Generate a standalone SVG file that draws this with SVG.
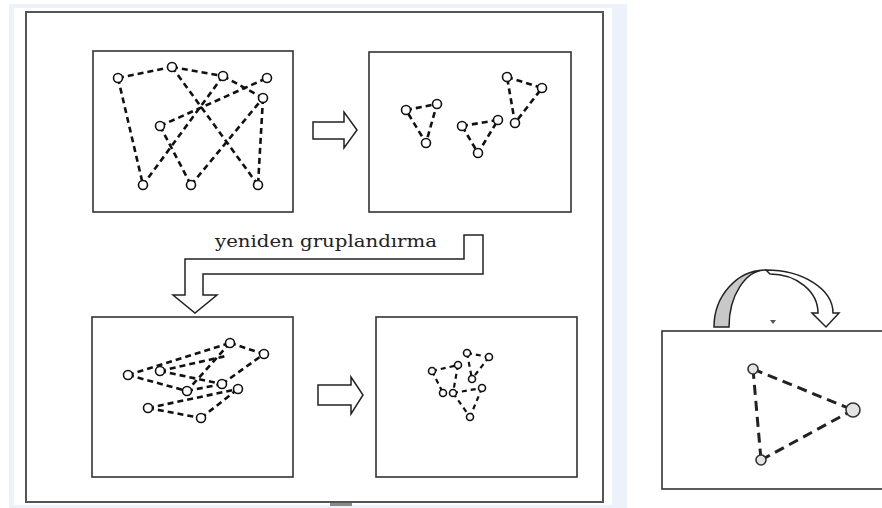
<svg xmlns="http://www.w3.org/2000/svg" width="882" height="508" viewBox="0 0 882 508">
<style>
.panel{fill:#fff;stroke:#333;stroke-width:1.6}
.frame{fill:#fff;stroke:#555;stroke-width:2}
.e{stroke:#111;stroke-width:2.6;stroke-dasharray:6 4;fill:none}
.es{stroke:#111;stroke-width:2.2;stroke-dasharray:5 4;fill:none}
.eb{stroke:#222;stroke-width:3;stroke-dasharray:10 6;fill:none}
.n{fill:#fff;stroke:#111;stroke-width:1.6}
.nb{fill:#e4e4e4;stroke:#333;stroke-width:1.6}
.blk{fill:#fff;stroke:#222;stroke-width:1.5;stroke-linejoin:miter}
.lbl{font-family:"DejaVu Serif","Liberation Serif",serif;font-size:17px;fill:#222}
</style>
<rect x="0" y="0" width="882" height="508" fill="#fff"/>
<rect x="9" y="4" width="618" height="504" fill="#edf2fa"/>
<rect x="14" y="8" width="598" height="497" fill="#fff"/>
<rect class="frame" x="26" y="12" width="577" height="490"/>
<rect x="330" y="503" width="22" height="3" fill="#888"/>

<g id="panel-top-left">
<rect class="panel" x="93" y="51" width="200" height="161"/>
<g id="edges-top-left">
<line class="e" x1="118" y1="78" x2="172" y2="67"/>
<line class="e" x1="172" y1="67" x2="223" y2="76"/>
<line class="e" x1="118" y1="78" x2="143" y2="185"/>
<line class="e" x1="172" y1="67" x2="258" y2="185"/>
<line class="e" x1="223" y1="76" x2="143" y2="185"/>
<line class="e" x1="160" y1="126" x2="267" y2="78"/>
<line class="e" x1="223" y1="76" x2="263" y2="98"/>
<line class="e" x1="160" y1="126" x2="191" y2="185"/>
<line class="e" x1="191" y1="185" x2="263" y2="98"/>
<line class="e" x1="263" y1="98" x2="258" y2="185"/>
</g>
<circle class="n" cx="118" cy="78" r="4.5"/>
<circle class="n" cx="172" cy="67" r="4.5"/>
<circle class="n" cx="223" cy="76" r="4.5"/>
<circle class="n" cx="267" cy="78" r="4.5"/>
<circle class="n" cx="263" cy="98" r="4.5"/>
<circle class="n" cx="160" cy="126" r="4.5"/>
<circle class="n" cx="143" cy="185" r="4.5"/>
<circle class="n" cx="191" cy="185" r="4.5"/>
<circle class="n" cx="258" cy="185" r="4.5"/>
</g>

<g id="panel-top-right">
<rect class="panel" x="369" y="52" width="202" height="160"/>
<g id="edges-top-right">
<polygon class="e" points="406,110 437,104 426,143"/>
<polygon class="e" points="462,126 498,120 478,153"/>
<polygon class="e" points="507,77 542,88 515,123"/>
</g>
<circle class="n" cx="406" cy="110" r="4.5"/>
<circle class="n" cx="437" cy="104" r="4.5"/>
<circle class="n" cx="426" cy="143" r="4.5"/>
<circle class="n" cx="462" cy="126" r="4.5"/>
<circle class="n" cx="498" cy="120" r="4.5"/>
<circle class="n" cx="478" cy="153" r="4.5"/>
<circle class="n" cx="507" cy="77" r="4.5"/>
<circle class="n" cx="542" cy="88" r="4.5"/>
<circle class="n" cx="515" cy="123" r="4.5"/>
</g>

<g id="panel-bottom-left">
<rect class="panel" x="92" y="317" width="201" height="160"/>
<g id="edges-bottom-left">
<line class="e" x1="128" y1="375" x2="230" y2="343"/>
<line class="e" x1="160" y1="371" x2="226" y2="356"/>
<line class="e" x1="230" y1="343" x2="264" y2="354"/>
<line class="e" x1="230" y1="343" x2="187" y2="391"/>
<line class="e" x1="160" y1="371" x2="222" y2="384"/>
<line class="e" x1="128" y1="375" x2="187" y2="391"/>
<line class="e" x1="187" y1="391" x2="222" y2="384"/>
<line class="e" x1="222" y1="384" x2="264" y2="354"/>
<line class="e" x1="148" y1="408" x2="238" y2="389"/>
<line class="e" x1="148" y1="408" x2="201" y2="418"/>
<line class="e" x1="201" y1="418" x2="238" y2="389"/>
</g>
<circle class="n" cx="230" cy="343" r="4.5"/>
<circle class="n" cx="264" cy="354" r="4.5"/>
<circle class="n" cx="128" cy="375" r="4.5"/>
<circle class="n" cx="160" cy="371" r="4.5"/>
<circle class="n" cx="187" cy="391" r="4.5"/>
<circle class="n" cx="222" cy="384" r="4.5"/>
<circle class="n" cx="238" cy="389" r="4.5"/>
<circle class="n" cx="148" cy="408" r="4.5"/>
<circle class="n" cx="201" cy="418" r="4.5"/>
</g>

<g id="panel-bottom-right">
<rect class="panel" x="376" y="317" width="201" height="160"/>
<g id="edges-bottom-right">
<line class="es" x1="467" y1="353" x2="489" y2="357"/>
<line class="es" x1="467" y1="353" x2="472" y2="379"/>
<line class="es" x1="489" y1="357" x2="472" y2="379"/>
<line class="es" x1="432" y1="371" x2="458" y2="365"/>
<line class="es" x1="432" y1="371" x2="443" y2="393"/>
<line class="es" x1="458" y1="365" x2="453" y2="393"/>
<line class="es" x1="453" y1="393" x2="482" y2="388"/>
<line class="es" x1="482" y1="388" x2="470" y2="417"/>
<line class="es" x1="453" y1="393" x2="470" y2="417"/>
</g>
<circle class="n" cx="467" cy="353" r="3.5"/>
<circle class="n" cx="489" cy="357" r="3.5"/>
<circle class="n" cx="432" cy="371" r="3.5"/>
<circle class="n" cx="458" cy="365" r="3.5"/>
<circle class="n" cx="472" cy="379" r="3.5"/>
<circle class="n" cx="443" cy="393" r="3.5"/>
<circle class="n" cx="453" cy="393" r="3.5"/>
<circle class="n" cx="482" cy="388" r="3.5"/>
<circle class="n" cx="470" cy="417" r="3.5"/>
</g>

<g id="panel-right">
<rect class="panel" x="662" y="331" width="240" height="158"/>
<g id="edges-right">
<line class="eb" x1="753" y1="369" x2="853" y2="410"/>
<line class="eb" x1="753" y1="369" x2="761" y2="460"/>
<line class="eb" x1="761" y1="460" x2="853" y2="410"/>
</g>
<circle class="nb" cx="753" cy="369" r="5"/>
<circle class="nb" cx="853" cy="410" r="7"/>
<circle class="nb" cx="761" cy="460" r="5"/>
</g>

<g id="connectors">
<polygon id="arrow-top" class="blk" points="313,122 344,122 344,112 357,130 344,148 344,139 313,139"/>
<polygon id="arrow-bottom" class="blk" points="318,385 351,385 351,377 363,395 351,414 351,405 318,405"/>
<polygon id="arrow-regroup" class="blk" points="464,235 483,235 483,274 203,274 203,295 217,295 195,313 173,295 185,295 185,259 464,259"/>
<g id="arrow-curved">
<path d="M714,327 A52,57 0 0 1 766,270 A37,57 0 0 0 729,327 Z" fill="#c8c8c8" stroke="#222" stroke-width="1.5"/>
<path d="M766,270 A67,43 0 0 1 833,313 L839,313 L826,327 L812,313 L818,313 A48,39 0 0 0 770,274 Z" fill="#fff" stroke="#222" stroke-width="1.5" stroke-linejoin="miter"/>
</g>
<path d="M770,320 L776,320 L773,324 Z" fill="#555"/>
</g>

<text class="lbl" x="215" y="247" textLength="222" lengthAdjust="spacingAndGlyphs">yeniden gruplandırma</text>
</svg>
